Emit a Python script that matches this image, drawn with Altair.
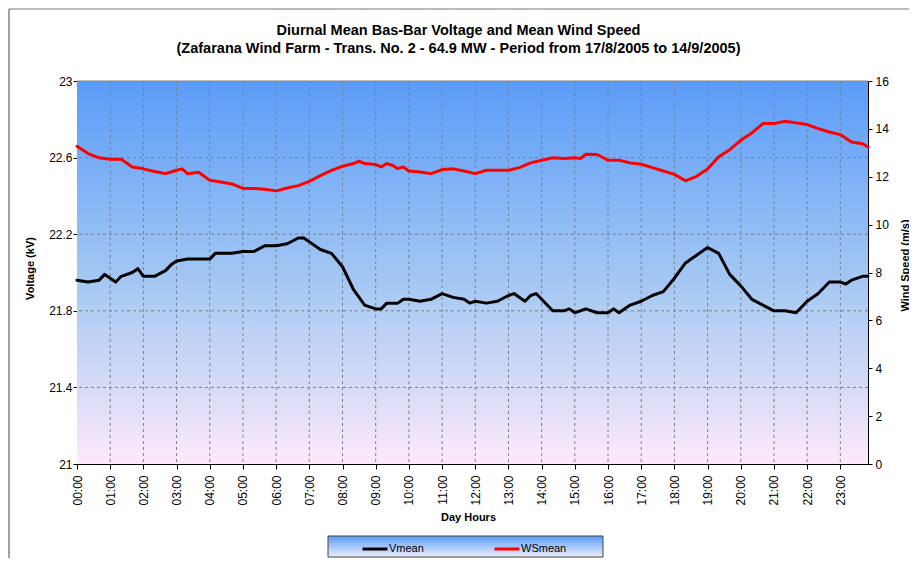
import altair as alt
import pandas as pd

TITLE = "Diurnal Mean Bas-Bar Voltage and Mean Wind Speed"
SUBTITLE = "(Zafarana Wind Farm - Trans. No. 2 - 64.9 MW - Period from 17/8/2005 to 14/9/2005)"

# Voltage series (kV)
v_times = ["00:00", "00:20", "00:40", "00:50", "01:00", "01:10", "01:20", "01:40", "01:50", "02:00",
           "02:20", "02:40", "02:50", "03:00", "03:20", "03:40", "04:00", "04:10", "04:20", "04:40",
           "05:00", "05:20", "05:40", "06:00", "06:20", "06:40", "06:50", "07:00", "07:20", "07:40",
           "08:00", "08:20", "08:40", "09:00", "09:10", "09:20", "09:40", "09:50", "10:00", "10:20",
           "10:40", "11:00", "11:20", "11:40", "11:50", "12:00", "12:20", "12:40", "13:00", "13:10",
           "13:20", "13:30", "13:40", "13:50", "14:00", "14:20", "14:40", "14:50", "15:00", "15:20",
           "15:40", "16:00", "16:10", "16:20", "16:40", "17:00", "17:20", "17:40", "18:00", "18:20",
           "18:40", "19:00", "19:20", "19:40", "20:00", "20:20", "20:40", "21:00", "21:20", "21:40",
           "22:00", "22:20", "22:40", "23:00", "23:10", "23:20", "23:40", "23:50"]
v_values = [21.96, 21.95, 21.96, 21.99, 21.97, 21.95, 21.98, 22.00, 22.02, 21.98,
            21.98, 22.01, 22.04, 22.06, 22.07, 22.07, 22.07, 22.10, 22.10, 22.10,
            22.11, 22.11, 22.14, 22.14, 22.15, 22.18, 22.18, 22.16, 22.12, 22.10,
            22.03, 21.91, 21.83, 21.81, 21.81, 21.84, 21.84, 21.86, 21.86, 21.85,
            21.86, 21.89, 21.87, 21.86, 21.84, 21.85, 21.84, 21.85, 21.88, 21.89,
            21.87, 21.85, 21.88, 21.89, 21.86, 21.80, 21.80, 21.81, 21.79, 21.81,
            21.79, 21.79, 21.81, 21.79, 21.83, 21.85, 21.88, 21.90, 21.97, 22.05,
            22.09, 22.13, 22.10, 21.99, 21.93, 21.86, 21.83, 21.80, 21.80, 21.79,
            21.85, 21.89, 21.95, 21.95, 21.94, 21.96, 21.98, 21.98]

# Wind speed series (m/s)
w_times = ["00:00", "00:20", "00:40", "01:00", "01:20", "01:40", "02:00", "02:20", "02:40", "03:00",
           "03:10", "03:20", "03:40", "04:00", "04:20", "04:40", "05:00", "05:20", "05:40", "06:00",
           "06:20", "06:40", "07:00", "07:20", "07:40", "08:00", "08:20", "08:30", "08:40", "09:00",
           "09:10", "09:20", "09:30", "09:40", "09:50", "10:00", "10:20", "10:40", "11:00", "11:20",
           "11:40", "12:00", "12:20", "12:40", "13:00", "13:20", "13:40", "14:00", "14:20", "14:40",
           "15:00", "15:10", "15:20", "15:40", "16:00", "16:20", "16:40", "17:00", "17:20", "17:40",
           "18:00", "18:20", "18:40", "19:00", "19:20", "19:40", "20:00", "20:20", "20:40", "21:00",
           "21:20", "21:40", "22:00", "22:20", "22:40", "23:00", "23:20", "23:40", "23:50"]
w_values = [13.27, 12.97, 12.79, 12.73, 12.73, 12.41, 12.33, 12.22, 12.13, 12.27,
            12.33, 12.13, 12.19, 11.85, 11.78, 11.70, 11.51, 11.51, 11.48, 11.41,
            11.53, 11.63, 11.81, 12.05, 12.27, 12.44, 12.55, 12.65, 12.55, 12.51,
            12.41, 12.55, 12.48, 12.34, 12.41, 12.24, 12.20, 12.13, 12.30, 12.33,
            12.24, 12.13, 12.27, 12.27, 12.27, 12.38, 12.58, 12.69, 12.79, 12.76,
            12.79, 12.76, 12.94, 12.93, 12.69, 12.69, 12.58, 12.52, 12.38, 12.24,
            12.10, 11.83, 12.02, 12.32, 12.83, 13.13, 13.52, 13.83, 14.22, 14.22,
            14.32, 14.25, 14.18, 14.01, 13.87, 13.76, 13.45, 13.38, 13.24]

hour_ticks = list(range(24))
v_ticks = [21, 21.4, 21.8, 22.2, 22.6, 23]
w_ticks = [0, 2, 4, 6, 8, 10, 12, 14, 16]
series_names = ["Vmean", "WSmean"]
series_colors = ["#000000", "#ff0000"]


def to_hours(t):
    hh, mm = t.split(":")
    return int(hh) + int(mm) / 60.0


vdf = pd.DataFrame({"h": [to_hours(t) for t in v_times], "value": v_values, "series": "Vmean"})
wdf = pd.DataFrame({"h": [to_hours(t) for t in w_times], "value": w_values, "series": "WSmean"})
vgrid_df = pd.DataFrame({"h": hour_ticks[1:]})
hgrid_df = pd.DataFrame({"value": v_ticks[1:-1]})

W, H = 791, 383
FONT = "Liberation Sans"

x_enc = alt.X(
    "h:Q",
    scale=alt.Scale(domain=[0, 143 / 6], nice=False, zero=False),
    axis=alt.Axis(
        values=hour_ticks,
        labelExpr="(datum.value < 10 ? '0' : '') + datum.value + ':00'",
        labelAngle=270, labelAlign="right", labelBaseline="middle",
        labelPadding=6, tickSize=5, grid=False,
        title="Day Hours", titleX=391, titleY=53,
        titleAlign="center", titleBaseline="middle",
    ),
)

yv_enc = alt.Y(
    "value:Q",
    scale=alt.Scale(domain=[21, 23], nice=False, zero=False),
    axis=alt.Axis(
        orient="left", values=v_ticks, format=".3~g", grid=False,
        tickSize=4, labelPadding=1,
        title="Voltage (kV)", titleAngle=270, titleX=-47, titleY=187,
        titleAlign="center", titleBaseline="middle",
    ),
)

yw_enc = alt.Y(
    "value:Q",
    scale=alt.Scale(domain=[0, 16], nice=False, zero=False),
    axis=alt.Axis(
        orient="right", values=w_ticks, format="d", grid=False,
        tickSize=4, labelPadding=3,
        title="Wind Speed (m/s)", titleAngle=270, titleX=37, titleY=184,
        titleAlign="center", titleBaseline="middle",
    ),
)

legend = alt.Legend(
    title=None, orient="none", legendX=284, legendY=454, direction="horizontal",
    symbolType="stroke", symbolSize=625, symbolStrokeWidth=3,
    labelFont=FONT, labelFontSize=11, labelColor="#000000", labelOffset=0,
    columnPadding=64, padding=0, zindex=1,
)
color_enc = alt.Color("series:N", scale=alt.Scale(domain=series_names, range=series_colors), legend=legend)

one = alt.Data(values=[{}])

bg = alt.Chart(one).mark_rect(
    fill=alt.Gradient(
        gradient="linear", x1=0, y1=0, x2=0, y2=1,
        stops=[alt.GradientStop(color="#5a9cf8", offset=0),
               alt.GradientStop(color="#a8caf3", offset=0.55),
               alt.GradientStop(color="#fde9fa", offset=1)],
    )
).encode(x=alt.value(0), x2=alt.value(W), y=alt.value(0), y2=alt.value(H))

# grey top edge of the plot area
plot_top = alt.Chart(one).mark_rule(color="#808080", strokeWidth=1).encode(
    x=alt.value(0), x2=alt.value(W), y=alt.value(0)
)

vgrid = alt.Chart(vgrid_df).mark_rule(color="#808080", strokeDash=[3, 3], strokeWidth=1).encode(x=x_enc)
hgrid = alt.Chart(hgrid_df).mark_rule(color="#808080", strokeDash=[3, 3], strokeWidth=1).encode(y=yv_enc)

vline = alt.Chart(vdf).mark_line(strokeWidth=3, strokeJoin="round", strokeCap="round").encode(
    x=x_enc, y=yv_enc, color=color_enc
)
wline = alt.Chart(wdf).mark_line(strokeWidth=3, strokeJoin="round", strokeCap="round").encode(
    x=x_enc, y=yw_enc, color=color_enc
)

legend_box = alt.Chart(one).mark_rect(
    fill=alt.Gradient(
        gradient="linear", x1=0, y1=0, x2=0, y2=1,
        stops=[alt.GradientStop(color="#5a9cf8", offset=0),
               alt.GradientStop(color="#eeeefa", offset=1)],
    ),
    stroke="#444444", strokeWidth=1,
).encode(x=alt.value(251), x2=alt.value(526), y=alt.value(455), y2=alt.value(476))

# outer chart-area border (top and left edges only are visible in the reference)
frame_top = alt.Chart(one).mark_rule(color="#777777", strokeWidth=1).encode(
    x=alt.value(-68), x2=alt.value(W + 41), y=alt.value(-72)
)
frame_left = alt.Chart(one).mark_rule(color="#444444", strokeWidth=1).encode(
    x=alt.value(-68), y=alt.value(-72), y2=alt.value(H + 94)
)

left = alt.layer(bg, plot_top, vgrid, hgrid, vline)
chart = (
    alt.layer(frame_top, frame_left, left, wline, legend_box)
    .resolve_scale(y="independent")
    .properties(
        width=W, height=H,
        autosize=alt.AutoSizeParams(type="none"),
        padding={"left": 69, "top": 73, "right": 41, "bottom": 94},
        title=alt.TitleParams(
            text=TITLE, subtitle=SUBTITLE, anchor="middle", dx=-14, offset=-48,
            font=FONT, fontSize=14.5, fontWeight="bold", color="#000000",
            subtitleFont=FONT, subtitleFontSize=14.5, subtitleFontWeight="bold",
            subtitleColor="#000000", subtitlePadding=4,
        ),
        background="#ffffff",
    )
    .configure_view(strokeWidth=0)
    .configure_axis(
        labelFont=FONT, labelFontSize=12, labelColor="#000000",
        titleFont=FONT, titleFontSize=11, titleFontWeight="bold", titleColor="#000000",
        domainColor="#000000", domainWidth=1, tickColor="#000000", tickWidth=1,
    )
)

chart.save("out.html", embed_options={"renderer": "svg", "actions": False})
